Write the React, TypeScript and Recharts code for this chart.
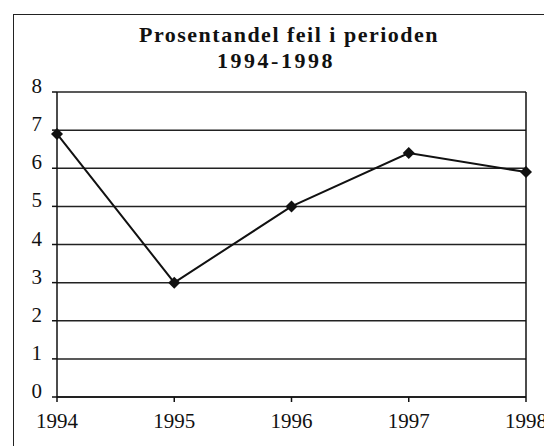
import React from 'react'
import { LineChart, Line, XAxis, YAxis, CartesianGrid, ReferenceLine } from 'recharts'

const years = ['1994', '1995', '1996', '1997', '1998']
const errorShare = [6.9, 3.0, 5.0, 6.4, 5.9]
const yTicks = [0, 1, 2, 3, 4, 5, 6, 7, 8]
const titleLines = ['Prosentandel feil i perioden', '1994-1998']

const data = years.map((year, i) => ({ year, value: errorShare[i] }))

const font = '"Liberation Serif", "Times New Roman", serif'
const textStyle = { fontFamily: font, fontSize: 21, fill: '#111' }

const Diamond = (props: any) => {
  const { cx, cy } = props
  if (cx == null || cy == null) return null
  const r = 6
  return (
    <polygon
      points={`${cx},${cy - r} ${cx + r},${cy} ${cx},${cy + r} ${cx - r},${cy}`}
      fill="#111"
    />
  )
}

const renderYTick = (props: any) => {
  const { x, y, payload } = props
  return (
    <text x={x} y={y + 1} textAnchor="end" style={textStyle}>
      {payload.value}
    </text>
  )
}

const renderXTick = (props: any) => {
  const { x, y, payload } = props
  return (
    <text x={x} y={y + 24} textAnchor="middle" style={textStyle}>
      {payload.value}
    </text>
  )
}

export default function App() {
  return (
    <div style={{ position: 'absolute', left: 0, top: 0, width: 544, height: 446, background: '#fff', overflow: 'hidden' }}>
      {/* outer frame of the scanned chart */}
      <div style={{ position: 'absolute', left: 13, top: 14, width: 600, height: 500, borderLeft: '1px solid #222', borderTop: '1px solid #222' }} />
      <svg width={544} height={80} style={{ position: 'absolute', left: 0, top: 0 }}>
        <text x={289} y={42} textAnchor="middle" style={{ fontFamily: font, fontSize: 22, fontWeight: 'bold', fill: '#111', letterSpacing: 1.5 }}>
          {titleLines[0]}
        </text>
        <text x={276} y={68} textAnchor="middle" style={{ fontFamily: font, fontSize: 22, fontWeight: 'bold', fill: '#111', letterSpacing: 2.5 }}>
          {titleLines[1]}
        </text>
      </svg>
      <LineChart
        width={544}
        height={446}
        data={data}
        margin={{ top: 92, right: 18, bottom: 19, left: 13 }}
        style={{ position: 'absolute', left: 0, top: 0 }}
      >
        <CartesianGrid vertical={false} horizontal stroke="#222" strokeWidth={1.5} />
        <XAxis
          dataKey="year"
          height={30}
          stroke="#111"
          strokeWidth={1.5}
          tickSize={5}
          tick={renderXTick}
        />
        <YAxis
          width={44}
          domain={[0, 8]}
          ticks={yTicks}
          stroke="#111"
          strokeWidth={1.5}
          tickSize={5}
          tickMargin={10}
          tick={renderYTick}
        />
        <ReferenceLine x="1998" stroke="#111" strokeWidth={1.5} />
        <Line
          dataKey="value"
          stroke="#111"
          strokeWidth={2}
          dot={<Diamond />}
          activeDot={false}
          isAnimationActive={false}
        />
      </LineChart>
    </div>
  )
}
